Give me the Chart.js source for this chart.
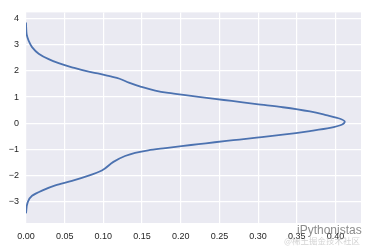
<!DOCTYPE html>
<html>
<head>
<meta charset="utf-8">
<script src="https://cdn.jsdelivr.net/npm/chart.js@4.4.0/dist/chart.umd.min.js"></script>
<style>
  html, body { margin: 0; padding: 0; background: #ffffff; }
  #chart { display: block; }
</style>
</head>
<body>
<canvas id="chart" width="367" height="247"></canvas>
<script>
// KDE curve, drawn sideways: value on y, density on x
const yValues = [3.85, 3.62, 3.40, 3.15, 2.91, 2.66, 2.45, 2.30, 2.14, 1.97, 1.89, 1.80, 1.70, 1.55, 1.40, 1.25, 1.16, 1.09,
    1.01, 0.93, 0.85, 0.73, 0.61, 0.45, 0.31, 0.17, 0.06, -0.06, -0.18, -0.30, -0.44, -0.555, -0.652, -0.729,
    -0.802, -0.875, -0.952, -1.037, -1.135, -1.256, -1.48, -1.81, -2.01, -2.21, -2.38, -2.58, -2.78, -3.03, -3.45];
const density = [0.000, 0.0003, 0.0009, 0.0035, 0.0078, 0.0164, 0.0293, 0.0422, 0.0594, 0.081, 0.0956, 0.108, 0.121, 0.133, 0.148, 0.167, 0.184, 0.201,
    0.223, 0.244, 0.266, 0.298, 0.332, 0.367, 0.388, 0.406, 0.412, 0.408, 0.393, 0.367, 0.332, 0.298, 0.268, 0.244,
    0.223, 0.201, 0.180, 0.158, 0.141, 0.128, 0.113, 0.098, 0.081, 0.0594, 0.0379, 0.0207, 0.0078, 0.0022, 0.000];

const xTicks = [0, 0.05, 0.10, 0.15, 0.20, 0.25, 0.30, 0.35, 0.40];
const yTicks = [-3, -2, -1, 0, 1, 2, 3, 4];

const points = yValues.map((y, i) => ({ x: density[i], y: y }));

const plotBg = {
    id: "plotBg",
    beforeDraw(chart) {
        const { ctx, chartArea: a } = chart;
        ctx.save();
        ctx.fillStyle = "#eaeaf2";
        ctx.fillRect(a.left, a.top, a.right - a.left, a.bottom - a.top);
        ctx.restore();
    }
};

const watermark = {
    id: "watermark",
    afterDraw(chart) {
        const ctx = chart.ctx;
        ctx.save();
        ctx.fillStyle = "rgba(110,110,110,0.8)";
        ctx.font = "12px 'Liberation Sans', Arial, sans-serif";
        ctx.textBaseline = "middle";
        ctx.fillText("iPythonistas", 297, 231);
        ctx.fillStyle = "rgba(175,175,175,0.55)";
        ctx.font = "8.5px 'Noto Sans CJK SC', sans-serif";
        ctx.fillText("@稀土掘金技术社区", 284, 241);
        ctx.restore();
    }
};

const minus = v => String(v).replace("-", "\u2212");

new Chart(document.getElementById("chart"), {
    type: "line",
    data: {
        datasets: [{
            data: points,
            borderColor: "#4c72b0",
            borderWidth: 1.8,
            pointRadius: 0,
            cubicInterpolationMode: "monotone",
            fill: false
        }]
    },
    options: {
        indexAxis: "y",
        responsive: false,
        animation: false,
        layout: { padding: { top: 6, right: 6, left: 0, bottom: 0 } },
        plugins: { legend: { display: false }, tooltip: { enabled: false } },
        scales: {
            x: {
                type: "linear",
                min: 0,
                max: 0.433,
                afterBuildTicks: s => { s.ticks = xTicks.map(v => ({ value: v })); },
                afterFit: s => { s.height = 24; },
                grid: { color: "#ffffff", lineWidth: 1.2, drawTicks: false },
                border: { display: false },
                ticks: {
                    padding: 8,
                    color: "#262626",
                    font: { family: "'Liberation Sans', Arial, sans-serif", size: 9 },
                    callback: v => v.toFixed(2),
                    maxRotation: 0,
                    autoSkip: false
                }
            },
            y: {
                type: "linear",
                min: -3.82,
                max: 4.24,
                afterBuildTicks: s => { s.ticks = yTicks.map(v => ({ value: v })); },
                afterFit: s => { s.width = 26; },
                grid: { color: "#ffffff", lineWidth: 1.2, drawTicks: false },
                border: { display: false },
                ticks: {
                    padding: 7,
                    color: "#262626",
                    font: { family: "'Liberation Sans', Arial, sans-serif", size: 9 },
                    callback: v => minus(v),
                    autoSkip: false
                }
            }
        }
    },
    plugins: [plotBg, watermark]
});
</script>
</body>
</html>
